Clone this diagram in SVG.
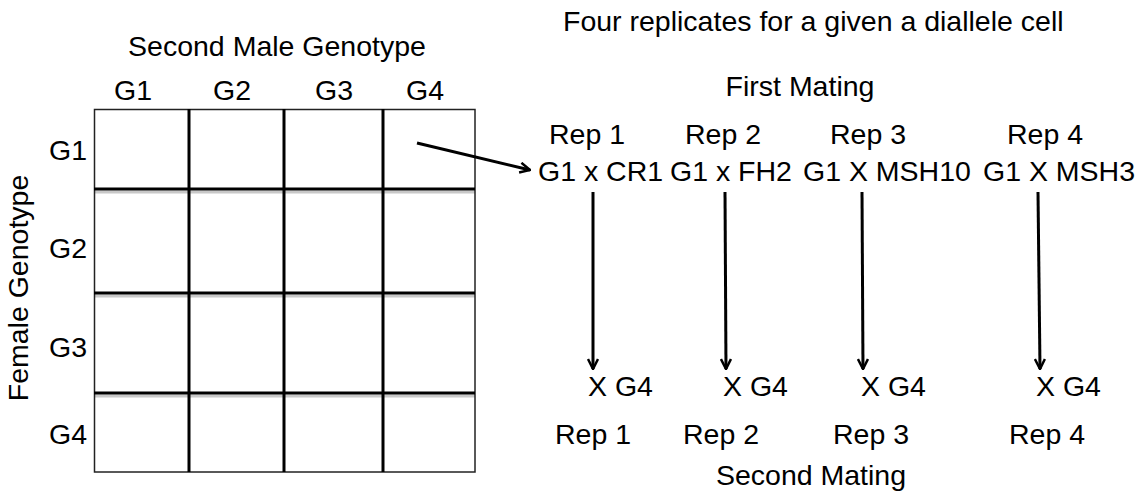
<svg xmlns="http://www.w3.org/2000/svg" width="1142" height="493" viewBox="0 0 1142 493">
  <style>
    text { font-family: "Liberation Sans", Arial, sans-serif; font-size: 28.5px; fill: #000; }
    .mid { text-anchor: middle; }
    .end { text-anchor: end; }
    .grid { stroke: #000; stroke-width: 3; fill: none; }
    .shadow { stroke: #c8c8c8; stroke-width: 3; fill: none; }
    .conn { stroke: #000; stroke-width: 3; fill: none; marker-end: url(#arr); }
  </style>
  <defs>
    <marker id="arr" viewBox="0 0 12 12" refX="11" refY="6" markerWidth="12" markerHeight="12" markerUnits="userSpaceOnUse" orient="auto">
      <path d="M1,1 L11,6 L1,11" fill="none" stroke="#000" stroke-width="2.5"/>
    </marker>
  </defs>
  <rect width="1142" height="493" fill="#fff"/>

  <g id="title">
    <text x="563" y="31">Four replicates for a given a diallele cell</text>
  </g>

  <g id="matrix">
    <text class="mid" x="277" y="56">Second Male Genotype</text>
    <text class="mid" x="133" y="100">G1</text>
    <text class="mid" x="232" y="100">G2</text>
    <text class="mid" x="334" y="100">G3</text>
    <text class="mid" x="425" y="100">G4</text>
    <text class="mid" transform="translate(28,288) rotate(-90)">Female Genotype</text>
    <text class="end" x="87" y="160">G1</text>
    <text class="end" x="87" y="258">G2</text>
    <text class="end" x="87" y="357">G3</text>
    <text class="end" x="87" y="444">G4</text>
    <line class="shadow" x1="95" y1="192" x2="475" y2="192"/>
    <line class="shadow" x1="95" y1="296" x2="475" y2="296"/>
    <line class="shadow" x1="95" y1="396" x2="475" y2="396"/>
    <rect x="94.5" y="109.5" width="380.5" height="362.5" fill="none" stroke="#222" stroke-width="1.5"/>
    <line class="grid" x1="189" y1="109" x2="189" y2="472"/>
    <line class="grid" x1="284" y1="109" x2="284" y2="472"/>
    <line class="grid" x1="383" y1="109" x2="383" y2="472"/>
    <line class="grid" x1="94" y1="189" x2="475" y2="189"/>
    <line class="grid" x1="94" y1="293" x2="475" y2="293"/>
    <line class="grid" x1="94" y1="393" x2="475" y2="393"/>
  </g>

  <g id="first-mating">
    <text class="mid" x="800" y="96">First Mating</text>
    <text class="mid" x="587" y="144">Rep 1</text>
    <text class="mid" x="723" y="144">Rep 2</text>
    <text class="mid" x="868" y="144">Rep 3</text>
    <text class="mid" x="1045" y="144">Rep 4</text>
    <text x="538" y="181">G1 x CR1</text>
    <text x="670" y="181">G1 x FH2</text>
    <text x="803" y="181">G1 X MSH10</text>
    <text x="983" y="181">G1 X MSH3</text>
  </g>

  <g id="second-mating">
    <text x="588" y="396">X G4</text>
    <text x="723" y="396">X G4</text>
    <text x="861" y="396">X G4</text>
    <text x="1036" y="396">X G4</text>
    <text class="mid" x="593" y="444">Rep 1</text>
    <text class="mid" x="721" y="444">Rep 2</text>
    <text class="mid" x="871" y="444">Rep 3</text>
    <text class="mid" x="1047" y="444">Rep 4</text>
    <text class="mid" x="811" y="485">Second Mating</text>
  </g>

  <g id="connectors">
    <line class="conn" x1="417" y1="143" x2="530" y2="170"/>
    <line class="conn" x1="593" y1="192" x2="593" y2="369"/>
    <line class="conn" x1="725" y1="192" x2="726" y2="369"/>
    <line class="conn" x1="862" y1="192" x2="863" y2="369"/>
    <line class="conn" x1="1038" y1="192" x2="1040" y2="369"/>
  </g>
</svg>
